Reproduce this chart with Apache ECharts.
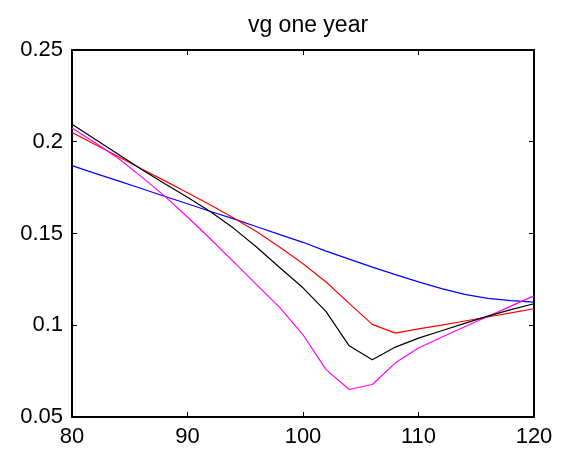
<!DOCTYPE html>
<html>
<head>
<meta charset="utf-8">
<script src="https://cdn.jsdelivr.net/npm/echarts@6/dist/echarts.min.js"></script>
<style>
  html, body { margin: 0; padding: 0; background: #fff; }
  #chart { width: 570px; height: 455px; }
</style>
</head>
<body>
<div id="chart"></div>
<script>
// strike values (x) and the four curves
const strikes = [80, 82, 84, 86, 88, 90, 92, 94, 96, 98, 100, 102, 104, 106, 108, 110, 112, 114, 116, 118, 120];
const blackVals = [0.2096, 0.2013, 0.1932, 0.1850, 0.1772, 0.1697, 0.1618, 0.1528, 0.1425, 0.1313, 0.1204, 0.1074, 0.0888, 0.0812, 0.0881, 0.0930, 0.0970, 0.1010, 0.1050, 0.1085, 0.1117];
const redVals = [0.2050, 0.1985, 0.1920, 0.1853, 0.1788, 0.1722, 0.1655, 0.1585, 0.1510, 0.1425, 0.1335, 0.1236, 0.1119, 0.1005, 0.0957, 0.0980, 0.1001, 0.1023, 0.1045, 0.1067, 0.1090];
const blueVals = [0.1870, 0.1828, 0.1787, 0.1745, 0.1703, 0.1662, 0.1620, 0.1580, 0.1537, 0.1494, 0.1452, 0.1404, 0.1360, 0.1317, 0.1276, 0.1236, 0.1200, 0.1168, 0.1146, 0.1134, 0.1126];
const magentaVals = [0.2075, 0.1995, 0.1910, 0.1810, 0.1705, 0.1590, 0.1470, 0.1345, 0.1220, 0.1096, 0.0948, 0.0758, 0.0650, 0.0677, 0.0795, 0.0876, 0.0935, 0.0992, 0.1048, 0.1104, 0.1160];

const pairs = vals => strikes.map((x, i) => [x, vals[i]]);

const chart = echarts.init(document.getElementById('chart'));
const font = 'Liberation Sans, Arial, sans-serif';

const axisLine = { show: true, lineStyle: { color: '#000', width: 2 } };
const axisTick = { show: true, inside: true, length: 5, lineStyle: { color: '#000', width: 1 } };

const option = {
  animation: false,
  backgroundColor: '#fff',
  title: {
    text: 'vg one year',
    left: 303,
    top: 9,
    textAlign: 'center',
    textStyle: { fontFamily: font, fontSize: 23, fontWeight: 'normal', color: '#000' }
  },
  grid: { left: 72, right: 36, top: 50, bottom: 38 },
  xAxis: [{
    type: 'value',
    min: 80, max: 120, interval: 10,
    axisLine, axisTick,
    axisLabel: { fontFamily: font, fontSize: 22, color: '#000', margin: 9 },
    splitLine: { show: false }
  }, {
    type: 'value', position: 'top',
    min: 80, max: 120, interval: 10,
    axisLine, axisTick,
    axisLabel: { show: false },
    splitLine: { show: false }
  }],
  yAxis: [{
    type: 'value',
    min: 0.05, max: 0.25, interval: 0.05,
    axisLine, axisTick,
    axisLabel: { fontFamily: font, fontSize: 22, color: '#000', margin: 9 },
    splitLine: { show: false }
  }, {
    type: 'value', position: 'right',
    min: 0.05, max: 0.25, interval: 0.05,
    axisLine, axisTick,
    axisLabel: { show: false },
    splitLine: { show: false }
  }],
  series: [
    { name: 'blue', type: 'line', data: pairs(blueVals), showSymbol: false, lineStyle: { color: '#0000ff', width: 1.2 } },
    { name: 'red', type: 'line', data: pairs(redVals), showSymbol: false, lineStyle: { color: '#ff0000', width: 1.2 } },
    { name: 'magenta', type: 'line', data: pairs(magentaVals), showSymbol: false, lineStyle: { color: '#ff00ff', width: 1.2 } },
    { name: 'black', type: 'line', data: pairs(blackVals), showSymbol: false, lineStyle: { color: '#000000', width: 1.2 } }
  ]
};

chart.setOption(option);
</script>
</body>
</html>
